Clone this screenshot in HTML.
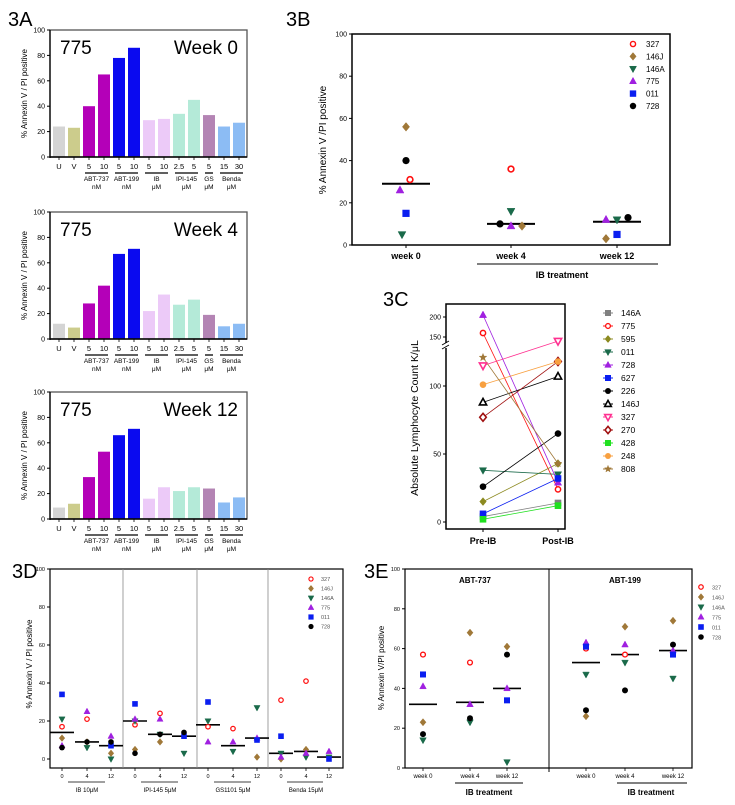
<!DOCTYPE html>
<html><head><meta charset="utf-8"><style>
html,body{margin:0;padding:0;background:#fff;}
svg{display:block;font-family:"Liberation Sans",sans-serif;}
</style></head><body>
<svg id="fig" width="735" height="805" viewBox="0 0 735 805" xmlns="http://www.w3.org/2000/svg"></svg>
<script>
// ---------- data ----------
const barLabels=['U','V','5','10','5','10','5','10','2.5','5','5','15','30'];
const week0Bars=[24,23,40,65,78,86,29,30,34,45,33,24,27];
const week4Bars=[12,9,28,42,67,71,22,35,27,31,19,10,12];
const week12Bars=[9,12,33,53,66,71,16,25,22,25,24,13,17];
const yTicks=[0,20,40,60,80,100];

const seriesNames=['327','146J','146A','775','011','728'];
const bWeeks=['week 0','week 4','week 12'];
const b327=[31,36,null];
const b146J=[56,9,3];
const b146A=[5,16,12];
const b775=[26,9,12];
const b011=[15,null,5];
const b728=[40,10,13];
const bMedian=[29,10,11];

const cNames=['146A','775','595','011','728','627','226','146J','327','270','428','248','808'];
const cPre=[4,160,15,38,205,6,26,88,115,77,2,101,121];
const cPost=[14,24,43,35,29,32,65,107,133,118,12,118,43];
const cTicksLow=[0,50,100];
const cTicksHigh=[150,200];

const dGroups=['IB 10\u03bcM','IPI-145 5\u03bcM','GS1101 5\u03bcM','Benda 15\u03bcM'];
const dTimes=['0','4','12'];
const d327=[17,21,null,18,24,null,17,16,null,31,41,null];
const d146J=[11,9,3,5,9,null,null,null,1,0,5,null];
const d146A=[21,6,0,20,13,3,20,4,27,3,1,1];
const d775=[7,25,12,21,21,null,9,9,11,1,3,4];
const d011=[34,null,7,29,null,12,30,null,10,12,null,0];
const d728=[6,9,9,3,13,14,null,null,null,null,null,null];
const dMedian=[14,9,7,20,13,12,18,7,11,3,4,1];

const eGroups=['ABT-737','ABT-199'];
const e327=[57,53,null,60,57,null];
const e146J=[23,68,61,26,71,74];
const e146A=[14,23,3,47,53,45];
const e775=[41,32,40,63,62,59];
const e011=[47,null,34,61,null,57];
const e728=[17,25,57,29,39,62];
const eMedian=[32,33,40,53,57,59];

// ---------- style ----------
const svg=document.getElementById('fig');
const NS='http://www.w3.org/2000/svg';
const barColors=['#d4d4d4','#cccc8c','#b400b8','#b400b8','#0a0af0','#0a0af0','#eccaf8','#eccaf8','#b4ead8','#b4ead8','#b484b4','#8cbcf4','#8cbcf4'];
const sTypes=['oc','d','dt','t','s','c'];
const sColors=['#ff1010','#a07838','#1a6a4a','#a020e0','#0a1ef0','#000000'];
const cTypes=['s','oc','d','dt','t','s','c','ot','odt','od','s','c','star'];
const cColors=['#808080','#ff1010','#8c8a20','#1a6a4a','#a020e0','#0a1ef0','#000000','#000000','#ff3090','#a01010','#20e020','#f8a040','#a07838'];

function el(tag,attrs,name,parent){
  const e=document.createElementNS(NS,tag);
  for(const k in attrs) e.setAttribute(k,attrs[k]);
  
  
  (parent||svg).appendChild(e);
  return e;
}
function txt(x,y,s,size,anchor,name,extra){
  const a={x:x,y:y,'font-size':size,'text-anchor':anchor||'start',fill:'#000'};
  if(extra) for(const k in extra) a[k]=extra[k];
  const t=el('text',a,name);
  t.textContent=s;
  return t;
}
function line(x1,y1,x2,y2,w,name,color){
  return el('line',{x1:x1,y1:y1,x2:x2,y2:y2,stroke:color||'#000','stroke-width':w},name);
}
function marker(type,x,y,r,color,name){
  let p;
  if(type==='oc') return el('circle',{cx:x,cy:y,r:r*0.8,fill:'#fff',stroke:color,'stroke-width':r*0.45},name);
  if(type==='c') return el('circle',{cx:x,cy:y,r:r,fill:color},name);
  if(type==='s') return el('rect',{x:x-r,y:y-r,width:2*r,height:2*r,fill:color},name);
  if(type==='d'||type==='od') p=[[x,y-r*1.2],[x+r,y],[x,y+r*1.2],[x-r,y]];
  if(type==='t'||type==='ot') p=[[x,y-r*1.2],[x+r*1.1,y+r*0.8],[x-r*1.1,y+r*0.8]];
  if(type==='dt'||type==='odt') p=[[x,y+r*1.2],[x+r*1.1,y-r*0.8],[x-r*1.1,y-r*0.8]];
  if(type==='star'){p=[];for(let i=0;i<10;i++){const a=-Math.PI/2+i*Math.PI/5,rr=i%2?r*0.5:r*1.2;p.push([x+rr*Math.cos(a),y+rr*Math.sin(a)]);}}
  const open=type.charAt(0)==='o';
  return el('polygon',{points:p.map(q=>q.join(',')).join(' '),fill:open?'#fff':color,stroke:color,'stroke-width':open?1.6:0.5},name);
}

// ---------- panel labels ----------
txt(8,26,'3A',20,'start','panel-label-3a');
txt(286,26,'3B',20,'start','panel-label-3b');
txt(383,306,'3C',20,'start','panel-label-3c');
txt(12,578,'3D',20,'start','panel-label-3d');
txt(364,578,'3E',20,'start','panel-label-3e');

// ---------- 3A ----------
function barPanel(data,top,week,key){
  const L=50,R=247,H=127,bot=top+H;
  const ys=v=>bot-v/100*H;
  const xs=i=>53+i*15;
  data.forEach((v,i)=>{
    el('rect',{x:xs(i),y:ys(v),width:12,height:bot-ys(v),fill:barColors[i]},'bar-'+key+'-'+i);
  });
  el('rect',{x:L,y:top,width:R-L,height:H,fill:'none',stroke:'#555','stroke-width':1.3},'plot-frame-'+key);
  line(L,top,L,bot+1,1.3,'y-axis-'+key);
  line(L,bot,R,bot,1.5,'x-axis-'+key);
  yTicks.forEach(t=>{
    line(L-3,ys(t),L,ys(t),1,'y-tick-'+key+'-'+t);
    txt(L-5,ys(t)+2.5,String(t),7,'end','y-tick-label-'+key+'-'+t);
  });
  barLabels.forEach((s,i)=>{
    line(xs(i)+6,bot,xs(i)+6,bot+3,0.8,'x-tick-'+key+'-'+i);
    txt(xs(i)+6,bot+12,s,7.5,'middle','x-tick-label-'+key+'-'+i);
  });
  const groups=[[2,3,'ABT-737','nM'],[4,5,'ABT-199','nM'],[6,7,'IB','\u03bcM'],[8,9,'IPI-145','\u03bcM'],[10,10,'GS','\u03bcM'],[11,12,'Benda','\u03bcM']];
  groups.forEach((g,j)=>{
    const x1=xs(g[0])+2,x2=xs(g[1])+10,cx=(x1+x2)/2;
    line(x1,bot+16,x2,bot+16,1.3,'group-underline-'+key+'-'+j);
    txt(cx,bot+24,g[2],6.5,'middle','group-label-'+key+'-'+j);
    txt(cx,bot+32,g[3],6.5,'middle','group-unit-'+key+'-'+j);
  });
  txt(27,top+H/2,'% Annexin V / PI positive',8,'middle','y-axis-title-'+key,{transform:'rotate(-90 27 '+(top+H/2)+')'});
  txt(60,top+24,'775',19,'start','patient-label-'+key);
  txt(238,top+24,week,19,'end','week-label-'+key);
}
barPanel(week0Bars,30,'Week 0','w0');
barPanel(week4Bars,212,'Week 4','w4');
barPanel(week12Bars,392,'Week 12','w12');

// ---------- 3B ----------
(function(){
  const L=352,R=670,T=34,B=245;
  const ys=v=>B-v/100*(B-T);
  const xs=[406,511,617];
  el('rect',{x:L,y:T,width:R-L,height:B-T,fill:'none',stroke:'#000','stroke-width':1.5},'plot-frame-3b');
  yTicks.forEach(t=>{
    line(L-3,ys(t),L,ys(t),1,'y-tick-3b-'+t);
    txt(L-5,ys(t)+2.5,String(t),7,'end','y-tick-label-3b-'+t);
  });
  bWeeks.forEach((w,i)=>{
    line(xs[i],B,xs[i],B+3,1,'x-tick-3b-'+i);
    txt(xs[i],B+14,w,9,'middle','x-tick-label-3b-'+i,{'font-weight':'bold'});
  });
  line(477,264,658,264,1,'ib-treatment-line-3b');
  txt(562,278,'IB treatment',9,'middle','ib-treatment-label-3b',{'font-weight':'bold'});
  txt(326,140,'% Annexin V /PI positive',10,'middle','y-axis-title-3b',{transform:'rotate(-90 326 140)'});
  const all=[b327,b146J,b146A,b775,b011,b728];
  const jit=[[4,0,-4,-6,0,0],[0,11,0,0,0,-11],[0,-11,0,-11,0,11]];
  bMedian.forEach((m,i)=>line(xs[i]-24,ys(m),xs[i]+24,ys(m),2,'median-line-3b-'+i));
  all.forEach((arr,s)=>arr.forEach((v,i)=>{
    if(v===null) return;
    marker(sTypes[s],xs[i]+jit[i][s],ys(v),3.6,sColors[s],'point-3b-'+seriesNames[s]+'-'+i);
  }));
  seriesNames.forEach((n,s)=>{
    marker(sTypes[s],633,44+s*12.4,3.2,sColors[s],'legend-marker-3b-'+n);
    txt(646,47+s*12.4,n,8,'start','legend-label-3b-'+n);
  });
})();

// ---------- 3C ----------
(function(){
  const L=446,R=565,T=304,B=529;
  const y0=522,k=1.36;
  const ys=v=>v<=140?y0-v*k:337-(v-150)*0.4;
  const xPre=483,xPost=558;
  el('rect',{x:L,y:T,width:R-L,height:B-T,fill:'none',stroke:'#000','stroke-width':1.5},'plot-frame-3c');
  el('rect',{x:L-3,y:343,width:6,height:5,fill:'#fff'},'axis-break-gap-3c');
  line(L-4,345,L+3,341,1,'axis-break-mark-3c-a');
  line(L-4,349,L+3,345,1,'axis-break-mark-3c-b');
  cTicksLow.concat(cTicksHigh).forEach(t=>{
    line(L-3,ys(t),L,ys(t),1,'y-tick-3c-'+t);
    txt(L-5,ys(t)+2.5,String(t),7,'end','y-tick-label-3c-'+t);
  });
  [xPre,xPost].forEach((x,i)=>line(x,B,x,B+3,1,'x-tick-3c-'+i));
  txt(xPre,544,'Pre-IB',9,'middle','x-tick-label-3c-pre',{'font-weight':'bold'});
  txt(xPost,544,'Post-IB',9,'middle','x-tick-label-3c-post',{'font-weight':'bold'});
  txt(418,418,'Absolute Lymphocyte Count K/\u03bcL',10.5,'middle','y-axis-title-3c',{transform:'rotate(-90 418 418)'});
  cNames.forEach((n,i)=>{
    line(xPre,ys(cPre[i]),xPost,ys(cPost[i]),0.8,'patient-line-3c-'+n,cColors[i]);
  });
  cNames.forEach((n,i)=>{
    marker(cTypes[i],xPre,ys(cPre[i]),3.3,cColors[i],'pre-point-3c-'+n);
    marker(cTypes[i],xPost,ys(cPost[i]),3.3,cColors[i],'post-point-3c-'+n);
  });
  cNames.forEach((n,i)=>{
    const y=313+i*13;
    line(603,y,613,y,1,'legend-line-3c-'+n,cColors[i]);
    marker(cTypes[i],608,y,3,cColors[i],'legend-marker-3c-'+n);
    txt(621,y+3,n,8.5,'start','legend-label-3c-'+n);
  });
})();

// ---------- 3D ----------
(function(){
  const L=50,R=343,T=569,B=768,y0=759;
  const ys=v=>y0-v/100*(y0-T);
  const xs=[62,87,111,135,160,184,208,233,257,281,306,329];
  el('rect',{x:L,y:T,width:R-L,height:B-T,fill:'none',stroke:'#000','stroke-width':1.2},'plot-frame-3d');
  [123,197,268].forEach((x,i)=>line(x,T,x,B,0.8,'group-divider-3d-'+i,'#888'));
  yTicks.forEach(t=>{
    line(L-3,ys(t),L,ys(t),1,'y-tick-3d-'+t);
    txt(L-5,ys(t)+2,String(t),5.5,'end','y-tick-label-3d-'+t);
  });
  xs.forEach((x,i)=>{
    line(x,B,x,B+3,0.8,'x-tick-3d-'+i);
    txt(x,B+10,dTimes[i%3],5.5,'middle','x-tick-label-3d-'+i);
  });
  dGroups.forEach((g,j)=>{
    line(xs[j*3]+6,B+14,xs[j*3+2]-6,B+14,0.8,'group-underline-3d-'+j);
    txt(xs[j*3+1],B+24,g,6,'middle','group-label-3d-'+j);
  });
  txt(32,664,'% Annexin V / PI positive',8,'middle','y-axis-title-3d',{transform:'rotate(-90 32 664)'});
  dMedian.forEach((m,i)=>line(xs[i]-12,ys(m),xs[i]+12,ys(m),1.6,'median-line-3d-'+i));
  const all=[d327,d146J,d146A,d775,d011,d728];
  all.forEach((arr,s)=>arr.forEach((v,i)=>{
    if(v===null) return;
    marker(sTypes[s],xs[i],ys(v),2.8,sColors[s],'point-3d-'+seriesNames[s]+'-'+i);
  }));
  seriesNames.forEach((n,s)=>{
    marker(sTypes[s],311,579+s*9.5,2.6,sColors[s],'legend-marker-3d-'+n);
    txt(321,581+s*9.5,n,5.5,'start','legend-label-3d-'+n,{fill:'#555'});
  });
})();

// ---------- 3E ----------
(function(){
  const L=405,R=692,T=569,B=768;
  const ys=v=>B-v/100*(B-T);
  const xs=[423,470,507,586,625,673];
  el('rect',{x:L,y:T,width:R-L,height:B-T,fill:'none',stroke:'#000','stroke-width':1.2},'plot-frame-3e');
  line(549,T,549,B+4,1,'group-divider-3e');
  yTicks.forEach(t=>{
    line(L-3,ys(t),L,ys(t),1,'y-tick-3e-'+t);
    txt(L-5,ys(t)+2,String(t),5.5,'end','y-tick-label-3e-'+t);
  });
  xs.forEach((x,i)=>{
    line(x,B,x,B+3,0.8,'x-tick-3e-'+i);
    txt(x,B+10,bWeeks[i%3],6,'middle','x-tick-label-3e-'+i);
  });
  eGroups.forEach((g,j)=>txt(j?625:475,583,g,8,'middle','group-title-3e-'+j,{'font-weight':'bold'}));
  line(455,783,523,783,1,'ib-treatment-line-3e-0');
  line(617,783,687,783,1,'ib-treatment-line-3e-1');
  txt(489,795,'IB treatment',8,'middle','ib-treatment-label-3e-0',{'font-weight':'bold'});
  txt(651,795,'IB treatment',8,'middle','ib-treatment-label-3e-1',{'font-weight':'bold'});
  txt(384,668,'% Annexin V/PI positive',8,'middle','y-axis-title-3e',{transform:'rotate(-90 384 668)'});
  eMedian.forEach((m,i)=>line(xs[i]-14,ys(m),xs[i]+14,ys(m),1.6,'median-line-3e-'+i));
  const all=[e327,e146J,e146A,e775,e011,e728];
  all.forEach((arr,s)=>arr.forEach((v,i)=>{
    if(v===null) return;
    marker(sTypes[s],xs[i],ys(v),3,sColors[s],'point-3e-'+seriesNames[s]+'-'+i);
  }));
  seriesNames.forEach((n,s)=>{
    marker(sTypes[s],701,587+s*10,2.8,sColors[s],'legend-marker-3e-'+n);
    txt(712,589.5+s*10,n,5.5,'start','legend-label-3e-'+n,{fill:'#555'});
  });
})();
</script>
</body></html>
